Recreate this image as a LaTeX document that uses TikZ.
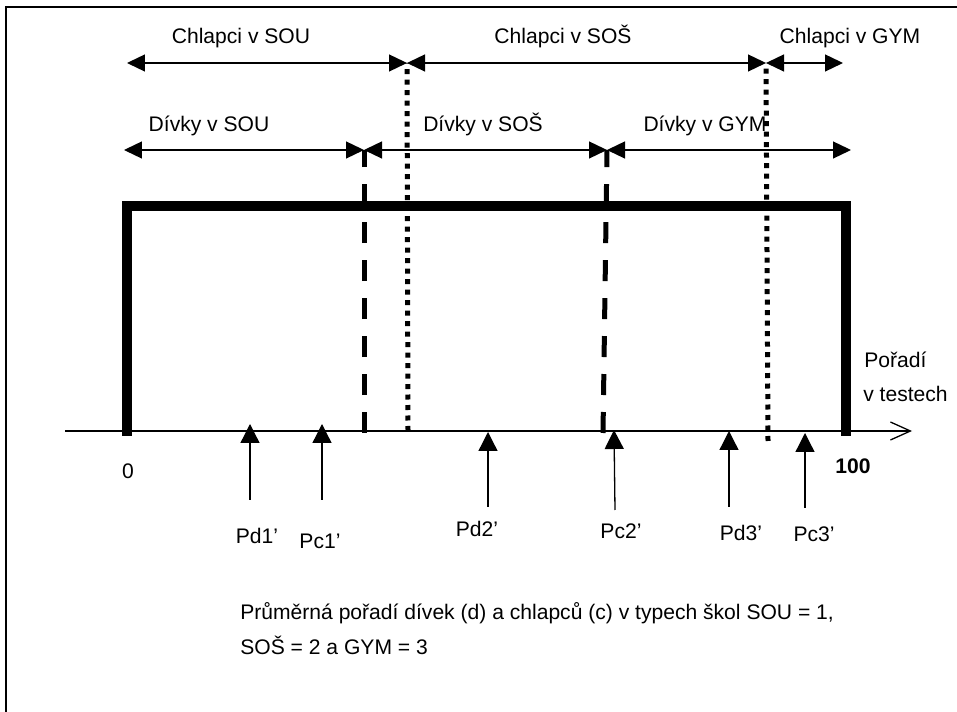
\documentclass[tikz,border=0pt]{standalone}
\usepackage{fontspec}
\setmainfont{Liberation Sans}
\usetikzlibrary{arrows.meta}

\begin{document}
\begin{tikzpicture}[x=0.02cm,y=-0.02cm,
  lbl/.style={font=\fontsize{12}{14}\selectfont,inner sep=0pt,anchor=base},
  rangearrow/.style={{Triangle[length=0.36cm,width=0.34cm]}-{Triangle[length=0.36cm,width=0.34cm]},line width=0.026cm},
  meanarrow/.style={-{Triangle[length=0.38cm,width=0.38cm]},line width=0.026cm},
  girlsline/.style={line width=0.1cm,dash pattern=on 0.42cm off 0.34cm},
  boysline/.style={line width=0.1cm,dash pattern=on 0.1cm off 0.11cm}]
\useasboundingbox (0,0) rectangle (957,712);
\draw[line width=0.05cm] (6,712) -- (6,7) -- (957,7);

% axis and the range 0..100
\coordinate (ax0) at (65,431);
\coordinate (ax1) at (912,431);
\draw[-{Straight Barb[length=0.4cm,width=0.36cm]},line width=0.026cm] (ax0) -- (ax1);
\draw[line width=0.19cm,line join=miter] (127,436) -- (127,206) -- (846,206) -- (846,436);
\node[lbl] (zero) at (128,479) {0};
\node[lbl] (hundred) at (853,474) {\bfseries 100};
\node[lbl,anchor=base west] (poradi) at (864,368) {Pořadí};
\node[lbl,anchor=base west] (vtestech) at (863,402) {v testech};

% boys
\node[lbl] (cSOU) at (241,44) {Chlapci v SOU};
\node[lbl] (cSOS) at (563,44) {Chlapci v SOŠ};
\node[lbl] (cGYM) at (850,44) {Chlapci v GYM};
\coordinate (c0) at (127,63);
\coordinate (c1) at (407,63);
\coordinate (c2) at (766,63);
\coordinate (c3) at (843,63);
\draw[rangearrow] (c0) -- (c1);
\draw[rangearrow] (c1) -- (c2);
\draw[rangearrow] (c2) -- (c3);
\coordinate (c1a) at (408,431);
\coordinate (c2a) at (768,441);
\draw[boysline] (c1a) -- (c1);
\draw[boysline] (c2a) -- (c2);

% girls
\node[lbl] (dSOU) at (209,132) {Dívky v SOU};
\node[lbl] (dSOS) at (483,132) {Dívky v SOŠ};
\node[lbl] (dGYM) at (705,132) {Dívky v GYM};
\coordinate (d0) at (124,150);
\coordinate (d1) at (364,150);
\coordinate (d2) at (607,150);
\coordinate (d3) at (851,150);
\draw[rangearrow] (d0) -- (d1);
\draw[rangearrow] (d1) -- (d2);
\draw[rangearrow] (d2) -- (d3);
\coordinate (d1a) at (364,433);
\coordinate (d2a) at (603,433);
\draw[girlsline] (d1a) -- (d1);
\draw[girlsline] (d2a) -- (d2);

% mean ranks
\coordinate (pd1b) at (250,500);
\coordinate (pd1t) at (250,424);
\draw[meanarrow] (pd1b) -- (pd1t);
\node[lbl] (pd1) at (257,544) {Pd1’};
\coordinate (pc1b) at (322,500);
\coordinate (pc1t) at (322,424);
\draw[meanarrow] (pc1b) -- (pc1t);
\node[lbl] (pc1) at (320,549) {Pc1’};
\coordinate (pd2b) at (488,507);
\coordinate (pd2t) at (488,432);
\draw[meanarrow] (pd2b) -- (pd2t);
\node[lbl] (pd2) at (477,537) {Pd2’};
\coordinate (pc2b) at (615,510);
\coordinate (pc2t) at (614,430);
\draw[meanarrow] (pc2b) -- (pc2t);
\node[lbl] (pc2) at (621,539) {Pc2’};
\coordinate (pd3b) at (729,507);
\coordinate (pd3t) at (729,431);
\draw[meanarrow] (pd3b) -- (pd3t);
\node[lbl] (pd3) at (741,541) {Pd3’};
\coordinate (pc3b) at (805,508);
\coordinate (pc3t) at (805,433);
\draw[meanarrow] (pc3b) -- (pc3t);
\node[lbl] (pc3) at (814,542) {Pc3’};

\node[lbl,anchor=base west] (caption1) at (240,620)
  {Průměrná pořadí dívek (d) a chlapců (c) v typech škol SOU = 1,};
\node[lbl,anchor=base west] (caption2) at (240,655) {SOŠ = 2 a GYM = 3};
\end{tikzpicture}
\end{document}
